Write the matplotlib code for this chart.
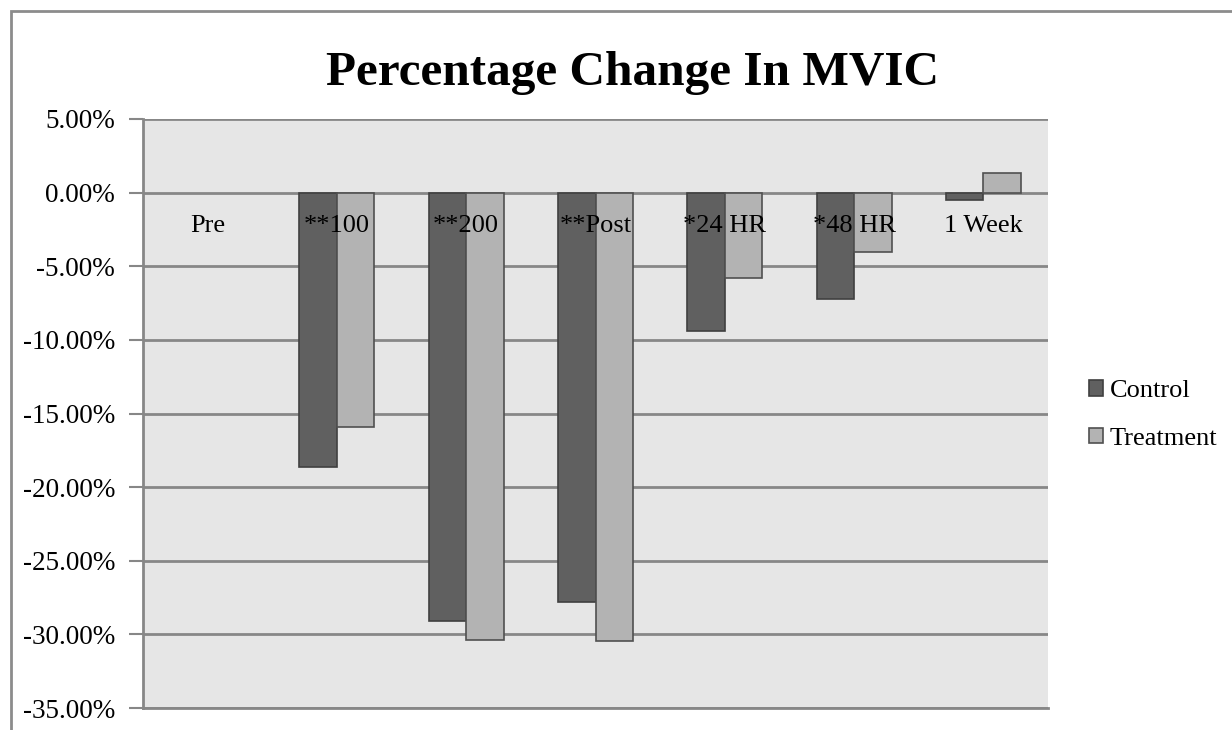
import numpy as np
import matplotlib.pyplot as plt
from matplotlib.patches import Rectangle, Patch
from matplotlib.ticker import FuncFormatter

plt.rcParams['font.family'] = ['Liberation Serif', 'DejaVu Serif']

# percentage change in MVIC from baseline
categories = ['Pre', '**100', '**200', '**Post', '*24 HR', '*48 HR', '1 Week']
control = [0.0, -18.6, -29.1, -27.8, -9.4, -7.2, -0.5]
treatment = [0.0, -15.95, -30.4, -30.45, -5.8, -4.0, 1.3]
series_names = ['Control', 'Treatment']

W, H = 1232, 730
fig = plt.figure(figsize=(W / 100, H / 100), dpi=100)
ax = fig.add_axes([143 / W, 1 - 708 / H, (1048 - 143) / W, (708 - 119) / H])
ax.set_facecolor('#e6e6e6')

x = np.arange(len(categories))
bw = 0.29
# no outline on empty (zero) bars
lw_c = [1.2 if v != 0 else 0 for v in control]
lw_t = [1.2 if v != 0 else 0 for v in treatment]
ax.bar(x - bw / 2, control, bw, color='#606060', edgecolor='#404040',
       linewidth=lw_c, zorder=3)
ax.bar(x + bw / 2, treatment, bw, color='#b3b3b3', edgecolor='#505050',
       linewidth=lw_t, zorder=3)

ax.set_xlim(-0.5, len(categories) - 0.5)
ax.set_ylim(-35, 5)
ax.set_yticks(np.arange(-35, 5.1, 5))
ax.yaxis.set_major_formatter(FuncFormatter(lambda v, p: '%.2f%%' % v))
ax.grid(axis='y', color='#878787', linewidth=2, zorder=1)
ax.set_xticks([])
ax.tick_params(axis='y', labelsize=19.5, length=10, width=1.5, color='#878787', pad=10)

for s in ['top', 'right']:
    ax.spines[s].set_visible(False)
for s in ['left', 'bottom']:
    ax.spines[s].set_color('#878787')
    ax.spines[s].set_linewidth(2)

# category labels sit just under the zero line
for i, c in enumerate(categories):
    ax.text(i, -2.3, c, ha='center', va='center', fontsize=19, zorder=5)

fig.text(632 / W, 1 - 73 / H, 'Percentage Change In MVIC', ha='center', va='center',
         fontsize=35.5, fontweight='bold')

# chart frame (clipped on the right and bottom)
fig.add_artist(Rectangle((11 / W, -0.05), 1.1, 1 - 11 / H + 0.05, transform=fig.transFigure,
                         fill=False, edgecolor='#8c8c8c', linewidth=2))

handles = [Patch(facecolor='#606060', edgecolor='#404040', linewidth=1.2),
           Patch(facecolor='#b3b3b3', edgecolor='#505050', linewidth=1.2)]
fig.legend(handles, series_names, loc='center left', bbox_to_anchor=(1065 / W, 1 - 415 / H),
           frameon=False, fontsize=19, handlelength=0.55, handleheight=0.55,
           handletextpad=0.25, labelspacing=0.95)

fig.savefig('out.png', dpi=100)
